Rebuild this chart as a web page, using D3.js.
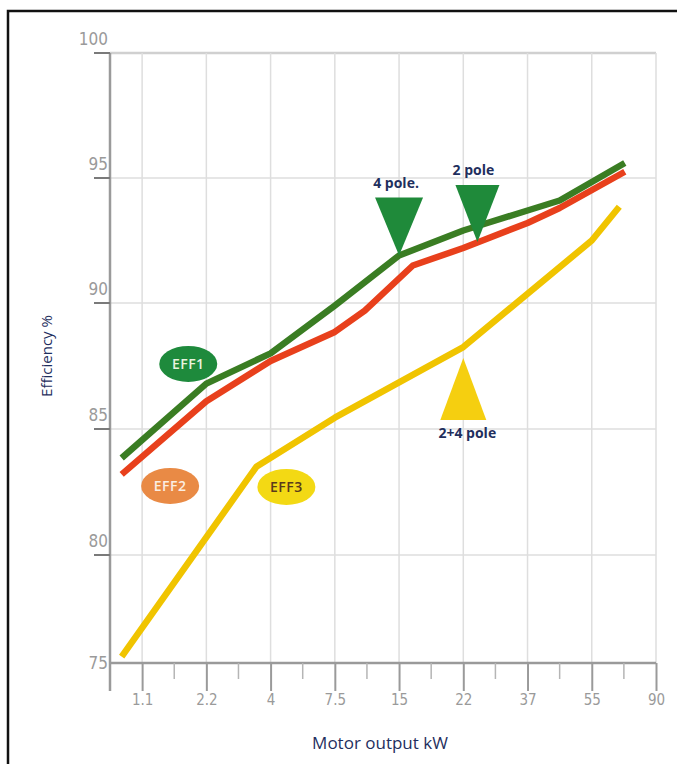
<!DOCTYPE html>
<html><head><meta charset="utf-8">
<script src="https://cdn.jsdelivr.net/npm/d3@7"></script>
<style>
html,body{margin:0;padding:0;background:#fff;}
svg{display:block;}
</style></head>
<body>
<svg id="chart" width="677" height="764"></svg>
<script>
// ---- data ----
const xTicks = [1.1, 2.2, 4, 7.5, 15, 22, 37, 55, 90];
const xTickLabels = ["1.1", "2.2", "4", "7.5", "15", "22", "37", "55", "90"];
const yTicks = [75, 80, 85, 90, 95, 100];

const eff1 = [
  {kw: 0.75, v: 83.85}, {kw: 2.2, v: 86.8}, {kw: 4, v: 88.0}, {kw: 7.5, v: 89.9},
  {kw: 15, v: 91.9}, {kw: 22, v: 92.9}, {kw: 37, v: 93.7}, {kw: 46, v: 94.1}, {kw: 73, v: 95.6}
];
const eff2 = [
  {kw: 0.75, v: 83.2}, {kw: 2.2, v: 86.1}, {kw: 4, v: 87.7}, {kw: 7.5, v: 88.85},
  {kw: 11, v: 89.7}, {kw: 16.5, v: 91.5}, {kw: 22, v: 92.2}, {kw: 37, v: 93.2}, {kw: 46, v: 93.8}, {kw: 73, v: 95.25}
];
const eff3 = [
  {kw: 0.75, v: 75.3}, {kw: 3.6, v: 83.5}, {kw: 7.5, v: 85.45}, {kw: 22, v: 88.25},
  {kw: 55, v: 92.5}, {kw: 70, v: 93.85}
];

const seriesNames = ["EFF1", "EFF2", "EFF3"];
const badgePos = [{kw: 1.89, v: 87.58}, {kw: 1.58, v: 82.74}, {kw: 4.86, v: 82.7}];

const poleLabels = ["4 pole.", "2 pole", "2+4 pole"];
const poleAt = [{kw: 15, v: 91.9, dir: "down"}, {kw: 25.3, v: 92.44, dir: "down"}, {kw: 22, v: 87.82, dir: "up"}];

// ---- layout ----
const svg = d3.select("#chart");
const plotLeft = 110, plotRight = 656, plotTop = 53, plotBottom = 663;
const step = (plotRight - plotLeft) / (xTicks.length - 0.5);

const x = d3.scaleLinear()
  .domain(xTicks)
  .range(xTicks.map((d, i) => plotLeft + step * (i + 0.5)));
const y = d3.scaleLinear()
  .domain(yTicks)
  .range([663, 555, 429, 303, 178, 53]);

const tickFont = "'Liberation Sans Narrow','DejaVu Sans Condensed','Arial Narrow',sans-serif";
const navy = "#1f2f5e";

// frame
svg.append("rect").attr("x", 8).attr("y", 11).attr("width", 720).attr("height", 800)
  .attr("fill", "none").attr("stroke", "#111").attr("stroke-width", 2.5);

// horizontal grid
svg.append("g").selectAll("line").data(yTicks.filter(d => d > 75)).join("line")
  .attr("x1", plotLeft).attr("x2", plotRight)
  .attr("y1", d => y(d)).attr("y2", d => y(d))
  .attr("stroke", d => d === 100 ? "#d0d0d0" : "#dedede")
  .attr("stroke-width", d => d === 100 ? 2.5 : 1.5);

// vertical grid
svg.append("g").selectAll("line").data(xTicks).join("line")
  .attr("x1", d => x(d)).attr("x2", d => x(d))
  .attr("y1", plotTop).attr("y2", plotBottom)
  .attr("stroke", "#dedede").attr("stroke-width", 1.5);

// x axis
const xAxis = d3.axisBottom(x).tickValues(xTicks).tickFormat((d, i) => xTickLabels[i])
  .tickSizeInner(28).tickSizeOuter(0).tickPadding(3);
const gx = svg.append("g").attr("transform", `translate(0,${plotBottom})`).call(xAxis);
gx.select(".domain").attr("d", `M${plotLeft},0H${plotRight}`).attr("stroke", "#9a9a9a").attr("stroke-width", 2.5);
gx.selectAll(".tick line").attr("stroke", "#9a9a9a").attr("stroke-width", 2);
gx.selectAll(".tick text").attr("font-family", tickFont).attr("font-size", 15).attr("fill", "#9a9a9a");
// minor ticks
const minor = d3.range(1, xTicks.length).map(i => (x(xTicks[i - 1]) + x(xTicks[i])) / 2);
svg.append("g").selectAll("line").data(minor).join("line")
  .attr("x1", d => d).attr("x2", d => d)
  .attr("y1", plotBottom).attr("y2", plotBottom + 16)
  .attr("stroke", "#b5b5b5").attr("stroke-width", 1.5);

// y axis
svg.append("line").attr("x1", plotLeft).attr("x2", plotLeft).attr("y1", plotTop).attr("y2", plotBottom + 28)
  .attr("stroke", "#9a9a9a").attr("stroke-width", 2.5);
svg.append("g").selectAll("line").data(yTicks.filter(d => d > 75)).join("line")
  .attr("x1", plotLeft - 16).attr("x2", plotLeft)
  .attr("y1", d => y(d)).attr("y2", d => y(d))
  .attr("stroke", "#7a7a7a").attr("stroke-width", 2);
svg.append("g").selectAll("text").data(yTicks).join("text")
  .attr("x", plotLeft - 2)
  .attr("y", d => y(d))
  .attr("dy", d => d === 75 ? "0.35em" : "-0.5em")
  .attr("text-anchor", "end")
  .attr("font-family", tickFont).attr("font-size", 17).attr("fill", "#9a9a9a")
  .text(d => d);

// lines
const line = d3.line().x(d => x(d.kw)).y(d => y(d.v));
const series = [eff3, eff2, eff1];
const colors = ["#f0c400", "#e8401c", "#3a7d23"];
svg.append("g").selectAll("path").data(series).join("path")
  .attr("d", line)
  .attr("fill", "none")
  .attr("stroke", (d, i) => colors[i])
  .attr("stroke-width", 6.5)
  .attr("stroke-linejoin", "round");

// badges
const badgeFill = ["#1e8a3c", "#e98a45", "#f3d914"];
const badgeText = ["#e9f3df", "#fbeee2", "#5a3b1c"];
const badges = svg.append("g").selectAll("g").data(seriesNames).join("g")
  .attr("transform", (d, i) => `translate(${x(badgePos[i].kw)},${y(badgePos[i].v)})`);
badges.append("ellipse").attr("rx", 29).attr("ry", 18).attr("fill", (d, i) => badgeFill[i]);
badges.append("text").attr("text-anchor", "middle").attr("dy", "0.36em")
  .attr("font-family", "'Open Sans','DejaVu Sans',sans-serif").attr("font-size", 14)
  .attr("font-weight", 600).attr("letter-spacing", 0.5)
  .attr("fill", (d, i) => badgeText[i]).text(d => d);

// pole triangles
const triFill = ["#1f8a3a", "#1f8a3a", "#f5cf10"];
const triH = [58, 57, 62], triHW = [24, 22, 23];
const tri = svg.append("g").selectAll("g").data(poleAt).join("g")
  .attr("transform", d => `translate(${x(d.kw)},${y(d.v)})`);
tri.append("path")
  .attr("d", (d, i) => {
    const s = d.dir === "down" ? -1 : 1;
    return `M0,0L${-triHW[i]},${s * triH[i]}L${triHW[i]},${s * triH[i]}Z`;
  })
  .attr("fill", (d, i) => triFill[i]);
tri.append("text")
  .attr("text-anchor", "middle")
  .attr("x", (d, i) => [-3, -4, 4][i])
  .attr("y", (d, i) => d.dir === "down" ? -triH[i] - 10 : triH[i] + 18)
  .attr("font-family", "'Open Sans','DejaVu Sans',sans-serif").attr("font-weight", "bold")
  .attr("font-size", 14).attr("fill", navy)
  .text((d, i) => poleLabels[i]);

// axis titles
svg.append("text").attr("x", 380).attr("y", 749).attr("text-anchor", "middle")
  .attr("font-family", "'Open Sans','DejaVu Sans',sans-serif").attr("font-size", 17).attr("fill", navy)
  .text("Motor output kW");
svg.append("text").attr("transform", "translate(52,356) rotate(-90)").attr("text-anchor", "middle")
  .attr("font-family", "'Open Sans','DejaVu Sans',sans-serif").attr("font-size", 15).attr("fill", navy)
  .text("Efficiency %");
</script>
</body></html>
